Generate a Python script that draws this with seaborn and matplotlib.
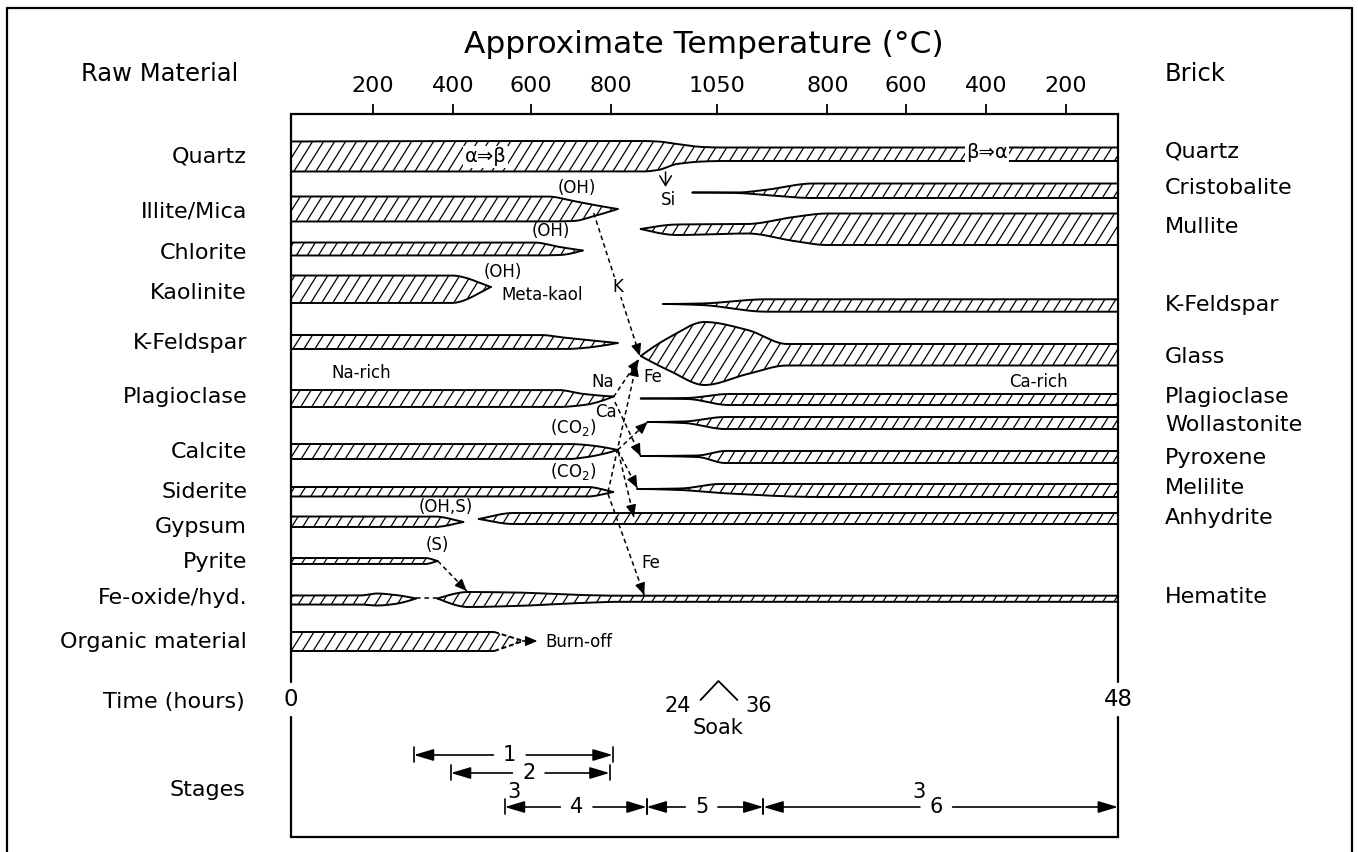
import numpy as np
import matplotlib
matplotlib.use("Agg")
import matplotlib.pyplot as plt
import seaborn as sns
from matplotlib.patches import Polygon
from matplotlib.collections import LineCollection
from matplotlib.lines import Line2D

# ---------------- data ----------------
temp_tick_pos = [4.75, 9.39, 13.91, 18.55, 24.75, 31.13, 35.71, 40.35, 44.99]
temp_tick_lab = ["200", "400", "600", "800", "1050", "800", "600", "400", "200"]

raw_names = ["Quartz", "Illite/Mica", "Chlorite", "Kaolinite", "K-Feldspar", "Plagioclase",
             "Calcite", "Siderite", "Gypsum", "Pyrite", "Fe-oxide/hyd.", "Organic material"]
raw_y = [157, 212, 253, 293, 343, 397, 452, 492, 527, 562, 598, 642]
brick_names = ["Quartz", "Cristobalite", "Mullite", "K-Feldspar", "Glass", "Plagioclase",
               "Wollastonite", "Pyroxene", "Melilite", "Anhydrite", "Hematite"]
brick_y = [152, 188, 227, 305, 357, 397, 425, 458, 488, 518, 597]

# band profiles: time (h), upper edge, lower edge
quartz = ([0, 20.4, 21.3, 22.4, 23.9, 25.0, 48],
          [141.5, 141, 141.5, 144, 147, 147.5, 147.5],
          [171.5, 171.5, 170, 164, 161.5, 161, 161])
illite = ([0, 14.9, 16.4, 17.6, 18.96], [196.5, 196.5, 201, 205, 209], [221.5, 221.5, 221, 216, 209])
chlorite = ([0, 14.1, 15.6, 16.93], [242.5, 242.5, 247, 250.5], [255.5, 255.5, 255, 250.5])
kaolinite = ([0, 9.3, 11.6], [275.5, 275.5, 287], [303, 303, 287])
kfeld_raw = ([0, 14.5, 15.8, 18.96], [335, 335, 337.5, 343], [349, 349, 349, 343])
plag_raw = ([0, 15.5, 17.0, 18.72], [390, 390, 394, 396.5], [407, 407, 405, 396.5])
calcite = ([0, 16.2, 16.8, 18.96], [444, 444, 444.5, 450], [459, 459, 458, 450])
siderite = ([0, 17.2, 18.7], [487, 487, 492], [496.5, 496.5, 492])
gypsum = ([0, 8.3, 10.0], [516.5, 516.5, 522], [527, 527, 522])
pyrite = ([0, 7.8, 8.5], [558, 558, 561], [564, 564, 561])
feoxide = ([0, 4.0, 5.0, 5.8, 7.25], [595.5, 595.5, 593.5, 594.5, 598.5], [604.5, 604.5, 605.5, 604.5, 598.5])
organic = ([0, 11.8], [632, 632], [651, 651])
organic_tip = ([11.8, 13.4], [632, 640.5], [651, 641.5])

cristobalite = ([23.3, 25.9, 27.5, 30.3, 48], [192.5, 192.5, 190, 183.5, 183.5], [192.5, 193, 195, 198, 198])
mullite = ([20.3, 22.4, 26.5, 29.2, 31.1, 48], [229, 224.5, 224, 217, 213.5, 213.5], [229, 235, 233.5, 241, 245, 245])
kfeld_brick = ([21.6, 23.8, 27.6, 48], [304, 303.5, 299.3, 299.3], [304, 305, 311.7, 311.7])
glass = ([20.3, 22.0, 24.0, 26.5, 28.8, 48], [356, 337, 322, 330, 344, 344], [356, 371, 385, 374, 365.5, 365.5])
plag_brick = ([20.3, 23.0, 25.4, 48], [398.5, 398, 394, 394], [398.5, 399, 405, 405])
wollastonite = ([20.7, 22.8, 25.2, 48], [422, 421.5, 417, 417], [422, 423, 429, 429])
pyroxene = ([20.3, 23.6, 25.2, 48], [456, 455.5, 451, 451], [456, 457, 463, 463])
melilite = ([20.1, 22.6, 24.9, 30.8, 48], [489, 488.5, 484, 484, 484], [489, 490, 493, 497, 497])
anhydrite = ([10.9, 12.9, 48], [519, 513, 513], [519, 524, 524])
hematite = ([8.5, 10.3, 13.0, 16.8, 19.0, 48], [598.5, 592, 592.5, 595, 595.7, 595.7],
            [598.5, 607, 606, 603, 601.8, 601.8])

bands = [quartz, illite, chlorite, kaolinite, kfeld_raw, plag_raw, calcite, siderite, gypsum,
         pyrite, feoxide, organic, cristobalite, mullite, kfeld_brick, glass, plag_brick,
         wollastonite, pyroxene, melilite, anhydrite, hematite]

# reaction arrows (dashed): start -> end (time h, vertical)
arrow_start = [(17.57, 213), (18.72, 397), (18.4, 492), (18.96, 450), (18.8, 402), (18.96, 450),
               (19.0, 452), (18.4, 494), (8.52, 561)]
arrow_end = [(20.25, 356), (20.2, 359), (20.05, 364), (20.7, 422), (20.29, 456), (20.1, 488),
             (19.9, 517), (20.5, 595), (10.2, 591)]

notes = [("(OH)", 16.6, 188), ("(OH)", 15.1, 231), ("(OH)", 12.3, 272), ("Meta-kaol", 14.6, 295),
         ("Si", 21.9, 200), ("Na-rich", 4.06, 373), ("Na", 18.1, 382), ("Fe", 21.0, 377),
         ("Ca", 18.3, 412), ("Ca-rich", 43.4, 382), ("(CO$_2$)", 16.4, 428), ("(CO$_2$)", 16.4, 472),
         ("(OH,S)", 9.0, 507), ("(S)", 8.5, 545), ("Fe", 20.9, 563)]

stage_names = ["1", "2", "4", "5", "6"]
stage_start = [7.13, 9.28, 12.41, 20.64, 27.42]
stage_end = [18.67, 18.49, 20.64, 27.42, 48]
stage_y = [755, 773, 807, 807, 807]
stage_label_x = [12.7, 13.8, 16.58, 23.83, 37.45]
stage3_x = [12.93, 36.46]

soak_x = [23.77, 24.81, 25.91]
soak_y = [700, 681, 700]

# ---------------- style ----------------
sns.set_theme(style="white")
plt.rcParams["font.family"] = ["DejaVu Sans"]
plt.rcParams["mathtext.default"] = "regular"
plt.rcParams["text.color"] = "black"
plt.rcParams["axes.labelcolor"] = "black"
plt.rcParams["xtick.color"] = "black"
plt.rcParams["ytick.color"] = "black"

W, H = 1358, 852
fig = plt.figure(figsize=(W / 100, H / 100), dpi=100)
fig.patch.set_facecolor("white")
L_PX, R_PX, T_PX, B_PX = 291, 1118, 114, 837
ax = fig.add_axes([L_PX / W, 1 - B_PX / H, (R_PX - L_PX) / W, (B_PX - T_PX) / H])
ax.set_xlim(0, 48)
ax.set_ylim(B_PX, T_PX)
PXH = (R_PX - L_PX) / 48.0
K_SLOPE = 1.6 * PXH
HATCH_STEP = 11.0 / PXH


def pchip(x, y, xn):
    x = np.asarray(x, float); y = np.asarray(y, float)
    h = np.diff(x); d = np.diff(y) / h
    n = len(x)
    m = np.zeros(n)
    if n == 2:
        m[:] = d[0]
    else:
        for k in range(1, n - 1):
            if d[k - 1] * d[k] <= 0:
                m[k] = 0.0
            else:
                w1 = 2 * h[k] + h[k - 1]; w2 = h[k] + 2 * h[k - 1]
                m[k] = (w1 + w2) / (w1 / d[k - 1] + w2 / d[k])

        def end(h0, h1, d0, d1):
            mm = ((2 * h0 + h1) * d0 - h0 * d1) / (h0 + h1)
            if np.sign(mm) != np.sign(d0):
                mm = 0.0
            elif np.sign(d0) != np.sign(d1) and abs(mm) > abs(3 * d0):
                mm = 3 * d0
            return mm
        m[0] = end(h[0], h[1], d[0], d[1])
        m[-1] = end(h[-1], h[-2], d[-1], d[-2])
    idx = np.clip(np.searchsorted(x, xn) - 1, 0, n - 2)
    t = (xn - x[idx]) / h[idx]
    h00 = 2 * t**3 - 3 * t**2 + 1; h10 = t**3 - 2 * t**2 + t
    h01 = -2 * t**3 + 3 * t**2; h11 = t**3 - t**2
    return h00 * y[idx] + h10 * h[idx] * m[idx] + h01 * y[idx + 1] + h11 * h[idx] * m[idx + 1]


def draw_band(band, ls="-"):
    xs, top, bot = band
    xn = np.unique(np.r_[np.linspace(xs[0], xs[-1], 400), xs])
    tn = pchip(xs, top, xn); bn = pchip(xs, bot, xn)
    poly = np.column_stack([np.r_[xn, xn[::-1]], np.r_[tn, bn[::-1]]])
    patch = Polygon(poly, closed=True, facecolor="white", edgecolor="none", zorder=2)
    ax.add_patch(patch)
    ymin, ymax = min(tn.min(), bn.min()), max(tn.max(), bn.max())
    cmin = xs[0] + ymin / K_SLOPE; cmax = xs[-1] + ymax / K_SLOPE
    cs = np.arange(np.floor(cmin / HATCH_STEP) * HATCH_STEP, cmax + HATCH_STEP, HATCH_STEP)
    segs = [[(c - ymax / K_SLOPE, ymax), (c - ymin / K_SLOPE, ymin)] for c in cs]
    lc = LineCollection(segs, colors="black", linewidths=0.9, zorder=3)
    ax.add_collection(lc)
    lc.set_clip_path(patch)
    for edge in (tn, bn):
        sns.lineplot(x=xn, y=edge, ax=ax, color="black", linewidth=1.4, linestyle=ls,
                     sort=False, estimator=None, zorder=4)


for b in bands:
    draw_band(b)
draw_band(organic_tip, ls=(0, (2.5, 1.5)))


def arrow_head(p0, p1, size_px=9):
    dx = (p1[0] - p0[0]) * PXH; dy = p1[1] - p0[1]
    L = np.hypot(dx, dy)
    back = (p1[0] - dx / L * size_px / PXH, p1[1] - dy / L * size_px)
    ax.annotate("", xy=p1, xytext=back,
                arrowprops=dict(arrowstyle="-|>,head_length=0.4,head_width=0.17", color="black",
                                lw=1.0, shrinkA=0, shrinkB=0, mutation_scale=18), zorder=7)


for p0, p1 in zip(arrow_start, arrow_end):
    ax.plot([p0[0], p1[0]], [p0[1], p1[1]], color="black", lw=1.1, ls=(0, (3, 2.2)), zorder=6)
    arrow_head(p0, p1)

# Fe-oxide gap and organic burn-off arrow
ax.plot([7.25, 8.5], [598.5, 598.5], color="black", lw=1.1, ls=(0, (3, 2.5)), zorder=6)
ax.plot([13.4, 14.1], [641, 641], color="black", lw=1.1, ls=(0, (2, 1.5)), zorder=6)
arrow_head((13.4, 641), (14.3, 641), size_px=7)
ax.text(14.74, 642, "Burn-off", fontsize=12, ha="left", va="center")

# Si arrow
ax.annotate("", xy=(21.74, 187), xytext=(21.74, 172),
            arrowprops=dict(arrowstyle="->,head_length=0.5,head_width=0.3", color="black", lw=1.1,
                            shrinkA=0, shrinkB=0, mutation_scale=14), zorder=7)

# labels inside plot
white = dict(facecolor="white", edgecolor="none", pad=1.0)
ax.text(11.3, 157, "α⇒β", fontsize=14, ha="center", va="center", bbox=white, zorder=8)
ax.text(40.4, 153, "β⇒α", fontsize=14, ha="center", va="center", bbox=white, zorder=8)
ax.text(18.96, 287, "K", fontsize=12, ha="center", va="center",
        bbox=dict(facecolor="white", edgecolor="none", pad=0.5), zorder=8)
for s, x, y in notes:
    ax.text(x, y, s, fontsize=12, ha="center", va="center", zorder=8)

# row labels
for s, y in zip(raw_names, raw_y):
    ax.text(-2.55, y, s, fontsize=16, ha="right", va="center")
for s, y in zip(brick_names, brick_y):
    ax.text(50.72, y, s, fontsize=16, ha="left", va="center")
ax.text(-7.6, 74, "Raw Material", fontsize=17.5, ha="center", va="center")
ax.text(52.5, 74, "Brick", fontsize=17.5, ha="center", va="center")
ax.text(23.97, 45, "Approximate Temperature (°C)", fontsize=22.5, ha="center", va="center")

# time row
ax.text(-2.67, 702, "Time (hours)", fontsize=16, ha="right", va="center")
ax.text(0, 700, "0", fontsize=16.5, ha="center", va="center")
ax.text(48, 700, "48", fontsize=16.5, ha="center", va="center")
ax.plot(soak_x, soak_y, color="black", lw=1.3)
ax.text(22.43, 706, "24", fontsize=15, ha="center", va="center")
ax.text(27.13, 706, "36", fontsize=15, ha="center", va="center")
ax.text(24.81, 728, "Soak", fontsize=15, ha="center", va="center")

# stages
ax.text(-2.67, 790, "Stages", fontsize=16, ha="right", va="center")
GAP = 0.95
for name, x0, x1, y, lx in zip(stage_names, stage_start, stage_end, stage_y, stage_label_x):
    ax.text(lx, y, name, fontsize=15, ha="center", va="center")
    for xe, xs in ((x0, lx - GAP), (x1, lx + GAP)):
        ax.annotate("", xy=(xe, y), xytext=(xs, y),
                    arrowprops=dict(arrowstyle="-|>,head_length=0.6,head_width=0.18", color="black",
                                    lw=1.2, shrinkA=0, shrinkB=0, mutation_scale=20))
    for xe in (x0, x1):
        if xe < 48:
            ax.plot([xe, xe], [y - 8, y + 7], color="black", lw=1.2)
for x in stage3_x:
    ax.text(x, 792, "3", fontsize=15, ha="center", va="center")

# axes frame
for s in ("left", "right"):
    ax.spines[s].set_visible(False)
for s in ("top", "bottom"):
    ax.spines[s].set_visible(True)
    ax.spines[s].set_linewidth(1.6)
    ax.spines[s].set_color("black")
for xv in (0, 48):
    ax.plot([xv, xv], [T_PX, 682], color="black", lw=1.6, clip_on=False, zorder=9)
    ax.plot([xv, xv], [717, B_PX], color="black", lw=1.6, clip_on=False, zorder=9)
ax.xaxis.set_ticks_position("top")
ax.set_xticks(temp_tick_pos)
ax.set_xticklabels(temp_tick_lab)
ax.tick_params(axis="x", direction="out", length=7, width=1.3, pad=6, labelsize=16,
               colors="black", top=True, bottom=False, labeltop=True, labelbottom=False)
ax.set_yticks([])
ax.set_xlabel("")
ax.set_ylabel("")
ax.grid(False)

# outer frame (open at bottom)
fx0, fx1, fy = 7 / W, 1352 / W, 1 - 8 / H
for xs_, ys_ in (([fx0, fx0], [0, fy]), ([fx0, fx1], [fy, fy]), ([fx1, fx1], [fy, 0])):
    fig.add_artist(Line2D(xs_, ys_, color="black", lw=1.6, transform=fig.transFigure))

fig.savefig("out.png", dpi=100, facecolor="white")
